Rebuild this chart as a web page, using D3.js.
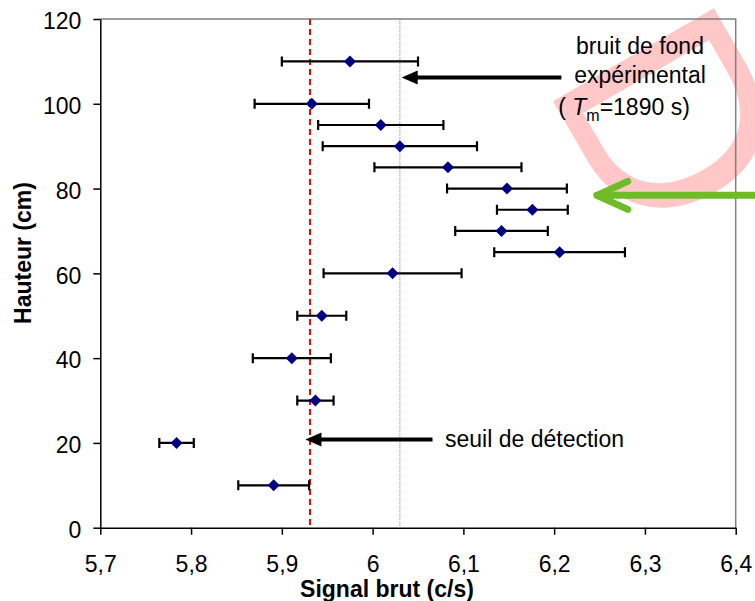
<!DOCTYPE html>
<html>
<head>
<meta charset="utf-8">
<script src="https://cdn.jsdelivr.net/npm/d3@7"></script>
<style>
  body { margin: 0; background: #fff; }
  svg { font-family: "Liberation Sans", Arial, sans-serif; }
</style>
</head>
<body>
<svg id="chart" width="755" height="601"></svg>
<script>
// données
var hauteur = [110, 100, 95, 90, 85, 80, 75, 70, 65, 60, 50, 40, 30, 20, 10];
var signal  = [5.975, 5.933, 6.009, 6.030, 6.083, 6.148, 6.176, 6.142, 6.206, 6.022, 5.944, 5.911, 5.937, 5.784, 5.891];
var erreur  = [0.075, 0.063, 0.069, 0.085, 0.081, 0.066, 0.039, 0.051, 0.072, 0.076, 0.027, 0.043, 0.020, 0.019, 0.039];
var xTicks = [5.7, 5.8, 5.9, 6.0, 6.1, 6.2, 6.3, 6.4];
var yTicks = [0, 20, 40, 60, 80, 100, 120];
var seuil = 5.931;       // seuil de détection
var bruitFond = 6.03;    // bruit de fond expérimental

var drawChart = function(){
    var left = 100.3, right = 735.7, top = 19, bottom = 527.7;
    var svg = d3.select("#chart");

    var x = d3.scaleLinear().domain([5.7, 6.4]).range([left, right]);
    var y = d3.scaleLinear().domain([0, 120]).range([bottom, top]);
    var fmt = function(d){ return d3.format(".1~f")(d).replace(".", ","); };

    // filigrane (seule la lettre D est visible)
    svg.append("text")
        .attr("transform", "translate(542,82) rotate(60)")
        .style("font-size", "270px")
        .attr("fill", "#ff0000")
        .attr("fill-opacity", 0.22)
        .text("D");

    // cadre : haut et droite en gris
    svg.append("path")
        .attr("d", "M" + left + "," + top + "H" + right + "V" + bottom)
        .attr("fill", "none")
        .attr("stroke", "#7f7f7f")
        .attr("stroke-width", 1.5);

    // axes
    var xAxis = svg.append("g")
        .attr("transform", "translate(0," + bottom + ")")
        .call(d3.axisBottom(x).tickValues(xTicks).tickFormat(fmt).tickSize(7).tickSizeOuter(0));
    var yAxis = svg.append("g")
        .attr("transform", "translate(" + left + ",0)")
        .call(d3.axisLeft(y).tickValues(yTicks).tickSize(7).tickSizeOuter(0));
    [xAxis, yAxis].forEach(function(a){
        a.select(".domain").attr("stroke", "#000").attr("stroke-width", 1.5);
        a.selectAll(".tick line").attr("stroke", "#000").attr("stroke-width", 1.5);
        a.selectAll(".tick text")
            .attr("fill", "#000")
            .style("font-size", "23px")
            .style("font-family", "'Liberation Sans', Arial, sans-serif");
    });
    xAxis.selectAll(".tick text").attr("y", 44).attr("dy", 0);
    yAxis.selectAll(".tick text").attr("x", -19).attr("dy", "0.42em");

    // titres des axes
    svg.append("text")
        .attr("x", 387).attr("y", 597)
        .attr("text-anchor", "middle")
        .style("font-size", "23px").style("font-weight", "bold")
        .text("Signal brut (c/s)");
    svg.append("text")
        .attr("transform", "translate(31,253) rotate(-90)")
        .attr("text-anchor", "middle")
        .style("font-size", "23px").style("font-weight", "bold")
        .text("Hauteur (cm)");

    // ligne du bruit de fond (pointillé gris)
    svg.append("line")
        .attr("x1", x(bruitFond)).attr("x2", x(bruitFond))
        .attr("y1", y(120)).attr("y2", y(0))
        .attr("stroke", "#8c8c8c").attr("stroke-width", 1)
        .attr("stroke-dasharray", "1,1");

    // ligne du seuil (tirets rouges)
    svg.append("line")
        .attr("x1", x(seuil)).attr("x2", x(seuil))
        .attr("y1", y(120)).attr("y2", y(0))
        .attr("stroke", "#ff0000").attr("stroke-width", 2)
        .attr("stroke-dasharray", "6,4");

    // barres d'erreur
    var pts = hauteur.map(function(h, i){ return {h: h, s: signal[i], e: erreur[i]}; });
    var err = svg.append("g").attr("stroke", "#000").attr("stroke-width", 2.2);
    err.selectAll(".bar").data(pts).enter().append("path")
        .attr("d", function(d){
            var x0 = x(d.s - d.e), x1 = x(d.s + d.e), yy = y(d.h);
            return "M" + x0 + "," + yy + "H" + x1 +
                   "M" + x0 + "," + (yy - 5) + "V" + (yy + 5) +
                   "M" + x1 + "," + (yy - 5) + "V" + (yy + 5);
        })
        .attr("fill", "none");

    // points (losanges)
    svg.selectAll(".pt").data(pts).enter().append("path")
        .attr("transform", function(d){ return "translate(" + x(d.s) + "," + y(d.h) + ")"; })
        .attr("d", "M0,-6L6,0L0,6L-6,0Z")
        .attr("fill", "#000080");

    // flèches noires
    function arrow(x0, x1, yv, color){
        var tip = x(x1), tail = x(x0), yy = y(yv);
        svg.append("line")
            .attr("x1", tail).attr("x2", tip + 12)
            .attr("y1", yy).attr("y2", yy)
            .attr("stroke", color).attr("stroke-width", 4);
        svg.append("path")
            .attr("d", "M" + tip + "," + yy + "L" + (tip + 16) + "," + (yy - 7) + "L" + (tip + 16) + "," + (yy + 7) + "Z")
            .attr("fill", color);
    }
    arrow(6.208, 6.032, 106.2, "#000");
    arrow(6.066, 5.926, 20.8, "#000");

    // flèche verte
    var gx = x(6.247), gy = y(78.4);
    svg.append("path")
        .attr("d", "M" + (gx + 31) + "," + (gy - 14) + "L" + gx + "," + gy + "L" + (gx + 31) + "," + (gy + 14) +
                   "M" + gx + "," + gy + "H" + 770)
        .attr("fill", "none")
        .attr("stroke", "#70bb2a")
        .attr("stroke-width", 7)
        .attr("stroke-linecap", "round")
        .attr("stroke-linejoin", "round");

    // annotations
    var note = svg.append("g").style("font-size", "23px").attr("fill", "#000");
    note.append("text").attr("x", 640).attr("y", 54).attr("text-anchor", "middle").text("bruit de fond");
    note.append("text").attr("x", 640).attr("y", 83).attr("text-anchor", "middle").text("expérimental");
    var t3 = note.append("text").attr("x", 624).attr("y", 115).attr("text-anchor", "middle");
    t3.append("tspan").text("( ");
    t3.append("tspan").style("font-style", "italic").text("T");
    t3.append("tspan").attr("dy", 6).style("font-size", "16px").text("m");
    t3.append("tspan").attr("dy", -6).text("=1890 s)");
    note.append("text").attr("x", 445).attr("y", 447).text("seuil de détection");
};

var main = function(){
    drawChart();
}();
</script>
</body>
</html>
